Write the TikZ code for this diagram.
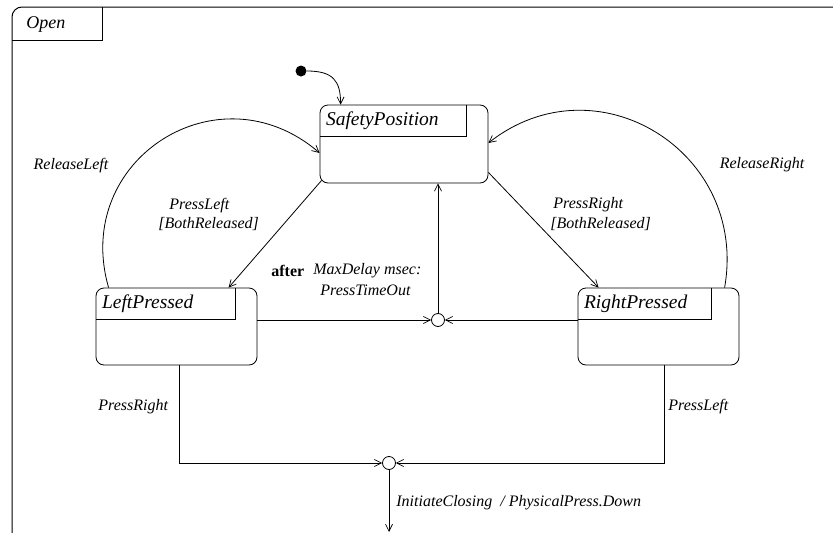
\documentclass[tikz,border=0pt]{standalone}
\usepackage{fontspec}
\setmainfont{Liberation Serif}
\usetikzlibrary{arrows.meta,calc}
\begin{document}
\begin{tikzpicture}[x=1pt,y=-1pt,
  line width=0.8pt,
  state/.style={draw,rounded corners=8pt,minimum width=#1,minimum height=77pt,inner sep=0pt},
  statename/.style={anchor=west,font=\fontsize{19.5}{22}\selectfont\itshape,inner sep=0pt},
  lbl/.style={font=\fontsize{16}{18}\selectfont\itshape,inner sep=0pt},
  junc/.style={draw,circle,minimum size=13pt,inner sep=0pt,fill=white},
  arr/.style={-{Straight Barb[length=7pt,width=7pt,line width=0.7pt]}}
]
\useasboundingbox (0,0) rectangle (833,533);
\begin{scope}
\clip (0,0) rectangle (833,533);
% outer state Open
\draw[line width=1pt,rounded corners=10pt] (12,7) rectangle (860,545);
\draw[line width=1pt] (102,7) -- (102,40) -- (12,40);
\node[statename,font=\fontsize{18}{20}\selectfont\itshape] (openname) at (26,24) {Open};
\end{scope}

% states
\node[state=168pt,minimum height=78pt] (sp) at (404,144) {};
\draw ($(sp.north west)+(147,0)$) |- ($(sp.north west)+(0,32)$);
\node[statename] (spname) at ($(sp.north west)+(6,16)$) {SafetyPosition};

\node[state=161pt] (lp) at (176.5,326.5) {};
\draw ($(lp.north west)+(140,0)$) |- ($(lp.north west)+(0,32)$);
\node[statename] (lpname) at ($(lp.north west)+(6,16)$) {LeftPressed};

\node[state=161pt] (rp) at (658.5,326.5) {};
\draw ($(rp.north west)+(134,0)$) |- ($(rp.north west)+(0,32)$);
\node[statename] (rpname) at ($(rp.north west)+(6,16)$) {RightPressed};

% pseudo states
\node[circle,fill=black,minimum size=11pt,inner sep=0pt] (init) at (301,71) {};
\node[junc] (j1) at (438,320) {};
\node[junc] (j2) at (389,463) {};
\coordinate (exitpt) at (389,532);

% transitions
\draw[arr] (init.east) .. controls +(26,0) and +(0,-24) .. ($(sp.north west)+(21,0)$);
\draw[arr] ($(sp.south west)+(2,-3)$) -- ($(lp.north west)+(133,0)$);
\draw[arr] ($(sp.south east)+(0,-11)$) -- ($(rp.north west)+(21,0)$);
\draw[arr] (j1) -- (j1 |- sp.south);
\draw[arr] (lp.east |- j1) -- (j1);
\draw[arr] (rp.west |- j1) -- (j1);
\draw[arr] ($(lp.north west)+(13,0)$) .. controls +(-37,-128) and +(-101,-87) .. ($(sp.west)+(0,9)$);
\draw[arr] ($(rp.north west)+(147,0)$) .. controls +(24,-136) and +(108,-85) .. ($(sp.east)+(0,-1)$);
\draw[arr] ($(lp.south)+(2.5,0)$) |- (j2);
\draw[arr] ($(rp.south)+(5.5,0)$) |- (j2);
\draw[arr] (j2) -- (exitpt);

% labels
\node[lbl] (l1) at (71,166) {ReleaseLeft};
\node[lbl] (l2) at (762,165) {ReleaseRight};
\node[lbl,anchor=west] (l3) at (169,206) {PressLeft};
\node[lbl,anchor=west] (l4) at (158,224) {[BothReleased]};
\node[lbl,anchor=west] (l5) at (553,205) {PressRight};
\node[lbl,anchor=west] (l6) at (550,224) {[BothReleased]};
\node[lbl,anchor=west,font=\fontsize{16}{18}\selectfont\bfseries] (l7) at (271,271) {after};
\node[lbl,anchor=west] (l8) at (313,271) {MaxDelay msec:};
\node[lbl,anchor=west] (l9) at (320,290) {PressTimeOut};
\node[lbl,anchor=west] (l10) at (98,407) {PressRight};
\node[lbl,anchor=west] (l11) at (668,407) {PressLeft};
\node[lbl,anchor=west] (l12) at (396,503) {InitiateClosing\ \ / PhysicalPress.Down};
\end{tikzpicture}
\end{document}
